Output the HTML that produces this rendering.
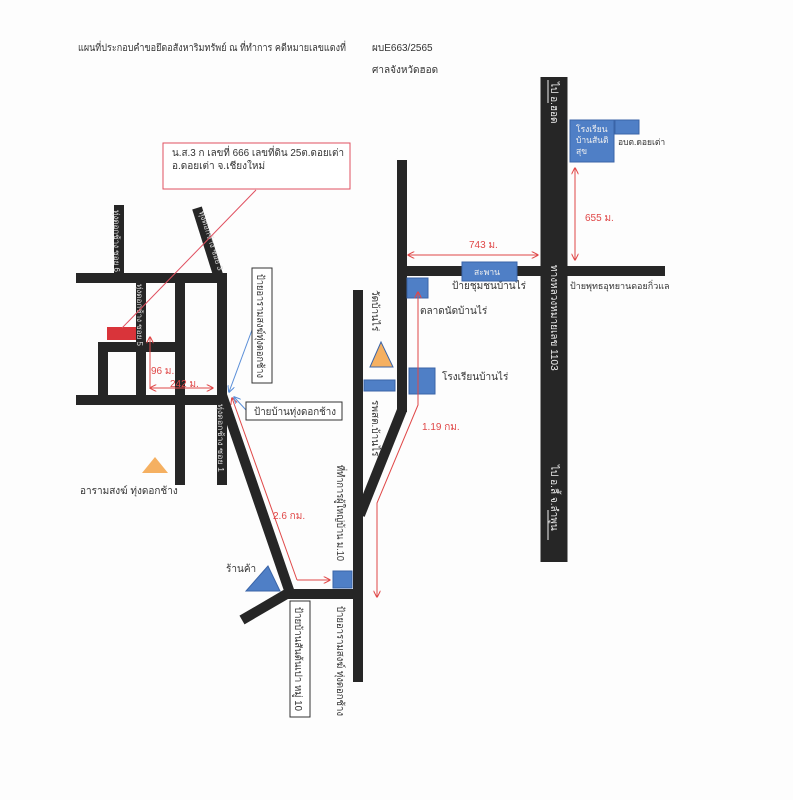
<!DOCTYPE html>
<html><head><meta charset="utf-8"><style>
body{margin:0;background:#fff}
svg{display:block}
text{font-family:"Liberation Sans","DejaVu Sans",sans-serif}
</style></head><body>
<svg width="793" height="800" viewBox="0 0 793 800" xmlns="http://www.w3.org/2000/svg">
<defs>
<marker id="ar" viewBox="0 0 10 10" refX="9" refY="5" markerWidth="7" markerHeight="7" orient="auto-start-reverse"><path d="M0,0L10,5L0,10" fill="none" stroke="#e04848" stroke-width="1.5"/></marker>
<marker id="ab" viewBox="0 0 10 10" refX="9" refY="5" markerWidth="7" markerHeight="7" orient="auto"><path d="M0,0L10,5L0,10" fill="none" stroke="#5b8fd8" stroke-width="1.5"/></marker>
</defs>
<rect width="793" height="800" fill="#fdfdfd"/>
<g font-family="Liberation Serif,serif" font-size="10" fill="#333">
<text x="78" y="51" textLength="268" lengthAdjust="spacingAndGlyphs">แผนที่ประกอบคำขอยึดอสังหาริมทรัพย์ ณ ที่ทำการ คดีหมายเลขแดงที่</text>
<text x="372" y="51">ผบE663/2565</text>
<text x="372" y="73">ศาลจังหวัดฮอด</text>
</g>
<!-- roads -->
<g stroke="#262626" stroke-width="10" fill="none" stroke-linecap="butt">
<line x1="76" y1="278" x2="227" y2="278"/>
<line x1="76" y1="400" x2="227" y2="400"/>
<line x1="98" y1="347" x2="178" y2="347"/>
<line x1="119" y1="205" x2="119" y2="278"/>
<line x1="141" y1="278" x2="141" y2="400"/>
<line x1="180" y1="278" x2="180" y2="485"/>
<line x1="222" y1="273" x2="222" y2="485"/>
<line x1="103" y1="342" x2="103" y2="400"/>
<line x1="197" y1="208" x2="219" y2="278"/>
<line x1="222" y1="395" x2="290" y2="593"/>
<line x1="288" y1="594" x2="363" y2="594"/>
<line x1="290" y1="592" x2="242" y2="620"/>
<line x1="358" y1="290" x2="358" y2="682"/>
<line x1="402" y1="160" x2="402" y2="412"/>
<line x1="402" y1="410" x2="360" y2="515"/>
<line x1="398" y1="271" x2="665" y2="271"/>
<line x1="554" y1="77" x2="554" y2="562" stroke-width="27"/>
</g>
<!-- road labels -->
<g font-size="8" fill="#ddd">
<text transform="translate(114,210) rotate(90)" textLength="62" lengthAdjust="spacingAndGlyphs">ทุ่งดอกช้าง ซอย 6</text>
<text transform="translate(137,284) rotate(90)" textLength="62" lengthAdjust="spacingAndGlyphs">ทุ่งดอกช้าง ซอย 5</text>
<text transform="translate(218,404) rotate(90)" textLength="68" lengthAdjust="spacingAndGlyphs">ทุ่งดอกช้าง ซอย 1</text>
<text transform="translate(199,212) rotate(72)" textLength="62" lengthAdjust="spacingAndGlyphs">ทุ่งดอกช้าง ซอย 3</text>
<text transform="translate(551,82) rotate(90)" font-size="10" fill="#eee">ไป อ.ฮอด</text>
<text transform="translate(551,265) rotate(90)" font-size="10" fill="#eee">ทางหลวงหมายเลข 1103</text>
<text transform="translate(551,465) rotate(90)" font-size="10" fill="#eee">ไป อ.ลี้ จ.ลำพูน</text>
</g>
<line x1="548" y1="103" x2="548" y2="80" stroke="#eee" stroke-width="1"/>
<line x1="548" y1="510" x2="548" y2="540" stroke="#eee" stroke-width="1"/>
<g font-size="10" fill="#333">
<text transform="translate(372,290) rotate(90)">วัดบ้านไร่</text>
<text transform="translate(372,400) rotate(90)">รพสต.บ้านไร่</text>
<text transform="translate(337,465) rotate(90)" textLength="96" lengthAdjust="spacingAndGlyphs">ที่ทำการผู้ใหญ่บ้าน ม.10</text>
<text transform="translate(337,606) rotate(90)" textLength="110" lengthAdjust="spacingAndGlyphs">ป้ายอารามสงฆ์ ทุ่งดอกช้าง</text>
<text x="420" y="314">ตลาดนัดบ้านไร่</text>
<text x="442" y="380">โรงเรียนบ้านไร่</text>
<text x="452" y="289">ป้ายชุมชนบ้านไร่</text>
<text x="570" y="289" font-size="9">ป้ายพุทธอุทยานดอยกิ่วแล</text>
<text x="618" y="145" font-size="8.5">อบต.ดอยเต่า</text>
<text x="80" y="494">อารามสงฆ์ ทุ่งดอกช้าง</text>
<text x="226" y="572">ร้านค้า</text>
</g>
<!-- blue boxes -->
<g fill="#4f7fc6" stroke="#3a64a8" stroke-width="1">
<rect x="462" y="262" width="55" height="19"/>
<rect x="407" y="278" width="21" height="20"/>
<rect x="409" y="368" width="26" height="26"/>
<rect x="364" y="380" width="31" height="11"/>
<rect x="570" y="120" width="44" height="42"/>
<rect x="615" y="120" width="24" height="14"/>
<rect x="333" y="571" width="19" height="17"/>
<path d="M268,566L246,591L280,591Z"/>
</g>
<g fill="#f0f0f0" font-size="8.5">
<text x="474" y="275">สะพาน</text>
<text x="576" y="132">โรงเรียน</text>
<text x="576" y="143">บ้านสันติ</text>
<text x="576" y="154">สุข</text>
</g>
<path d="M381,342L370,367L393,367Z" fill="#f5b061" stroke="#3a64a8"/>
<path d="M155,457L142,473L168,473Z" fill="#f5b061"/>
<!-- red -->
<rect x="107" y="327" width="29" height="13" fill="#d9343a"/>
<rect x="163" y="143" width="187" height="46" fill="#fff" stroke="#e05060"/>
<text x="172" y="156" font-size="10" fill="#333" textLength="172" lengthAdjust="spacingAndGlyphs">น.ส.3 ก  เลขที่ 666 เลขที่ดิน 25ต.ดอยเต่า</text>
<text x="172" y="169" font-size="10" fill="#333">อ.ดอยเต่า จ.เชียงใหม่</text>
<line x1="256" y1="190" x2="122" y2="328" stroke="#e05060" stroke-width="1"/>
<g stroke="#e04848" stroke-width="1" fill="none">
<line x1="150" y1="337" x2="150" y2="389" marker-start="url(#ar)"/>
<line x1="150" y1="388" x2="213" y2="388" marker-start="url(#ar)" marker-end="url(#ar)"/>
<line x1="408" y1="255" x2="538" y2="255" marker-start="url(#ar)" marker-end="url(#ar)"/>
<line x1="575" y1="168" x2="575" y2="260" marker-start="url(#ar)" marker-end="url(#ar)"/>
<polyline points="297,580 232,398" marker-end="url(#ar)"/>
<polyline points="297,580 330,580" marker-end="url(#ar)"/>
<polyline points="418,292 418,405 377,503 377,597" marker-end="url(#ar)"/>
<line x1="418" y1="405" x2="418" y2="292" marker-end="url(#ar)"/>
</g>
<g fill="#e04848" font-size="10">
<text x="151" y="374">96 ม.</text>
<text x="170" y="387">242 ม.</text>
<text x="469" y="248">743 ม.</text>
<text x="585" y="221">655 ม.</text>
<text x="273" y="519">2.6 กม.</text>
<text x="422" y="430">1.19 กม.</text>
</g>
<!-- blue annotation -->
<g stroke="#5b8fd8" stroke-width="1" fill="none">
<line x1="252" y1="330" x2="229" y2="392" marker-end="url(#ab)"/>
<line x1="246" y1="410" x2="234" y2="397" marker-end="url(#ab)"/>
</g>
<g fill="#fff" stroke="#333" stroke-width="1">
<rect x="252" y="268" width="20" height="115"/>
<rect x="246" y="402" width="96" height="18"/>
<rect x="290" y="601" width="20" height="116"/>
</g>
<g font-size="10" fill="#333">
<text transform="translate(257,274) rotate(90)" textLength="104" lengthAdjust="spacingAndGlyphs">ป้ายอารามสงฆ์ทุ่งดอกช้าง</text>
<text x="254" y="415" textLength="82" lengthAdjust="spacingAndGlyphs">ป้ายบ้านทุ่งดอกช้าง</text>
<text transform="translate(295,607) rotate(90)" textLength="104" lengthAdjust="spacingAndGlyphs">ป้ายบ้านสันต้นเปา หมู่ 10</text>
</g>
</svg>
</body></html>
